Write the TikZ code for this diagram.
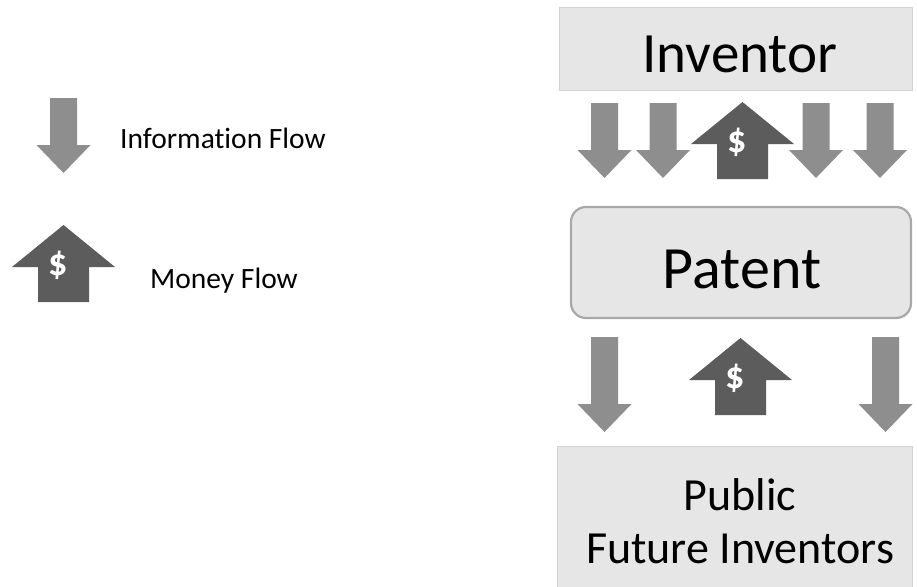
\documentclass[tikz,border=0pt]{standalone}
\usepackage{fontspec}
\setmainfont{Carlito}[Ligatures=NoCommon]
\definecolor{infogray}{HTML}{8E8E8E}
\definecolor{moneygray}{HTML}{5C5C5C}
\definecolor{boxfill}{HTML}{E6E6E6}
\definecolor{boxline}{HTML}{D2D2D2}
\definecolor{patline}{HTML}{A8A8A8}
\tikzset{
  pics/infoarr/.style={code={\fill[infogray] (-13.5,-#1) -- (13.5,-#1) -- (13.5,-28) -- (27,-28) -- (0,0) -- (-27,-28) -- (-13.5,-28) -- cycle;}},
  pics/moneyarr/.style={code={\fill[moneygray] (0,0) -- (51.5,42) -- (25.5,42) -- (25.5,77) -- (-25.5,77) -- (-25.5,42) -- (-51.5,42) -- cycle;
     \node[text=white,font=\bfseries\fontsize{38}{38}\selectfont,inner sep=0pt] (-dollar) at (-5,40) {\$};}},
  flatbox/.style={draw=boxline,line width=1pt,fill=boxfill},
  roundbox/.style={draw=patline,line width=2.2pt,fill=boxfill,rounded corners=15pt},
  bigtext/.style={font=\fontsize{57}{57}\selectfont,text=black},
  pubtext/.style={font=\fontsize{46}{50}\selectfont,text=black,align=center},
  legtext/.style={font=\fontsize{29.5}{30}\selectfont,text=black},
}
\begin{document}
\begin{tikzpicture}[x=1pt,y=-1pt]
\useasboundingbox[fill=white] (0,0) rectangle (917,586);
% boxes
\draw[flatbox] (559,8) rectangle (912,90);
\node[bigtext,anchor=base] (inventor) at (740,72) {Inventor};
\draw[roundbox] (571,207) rectangle (911,318);
\node[bigtext,anchor=base,font=\fontsize{60}{60}\selectfont] (patent) at (742,288) {Patent};
\draw[flatbox] (557,446) rectangle (912,590);
\node[pubtext,anchor=base] (public) at (740,510) {Public};
\node[pubtext,anchor=base] (future) at (740,563) {Future Inventors};
% top arrows
\pic (ia1) at (604.5,178) {infoarr=75};
\pic (ia2) at (663,178) {infoarr=75};
\pic (ma1) at (742.5,102) {moneyarr};
\pic (ia3) at (816,178) {infoarr=75};
\pic (ia4) at (880,178) {infoarr=75};
% bottom arrows
\pic (ib1) at (604.5,432) {infoarr=95};
\pic (mb1) at (740.5,338) {moneyarr};
\pic (ib2) at (885.5,432) {infoarr=95};
% legend
\pic (il) at (63.5,173) {infoarr=75};
\pic (ml) at (63.5,225) {moneyarr};
\node[legtext,anchor=base west,inner sep=0pt] (infolabel) at (120,148) {Information Flow};
\node[legtext,anchor=base west,inner sep=0pt] (moneylabel) at (150,288) {Money Flow};
\end{tikzpicture}
\end{document}
